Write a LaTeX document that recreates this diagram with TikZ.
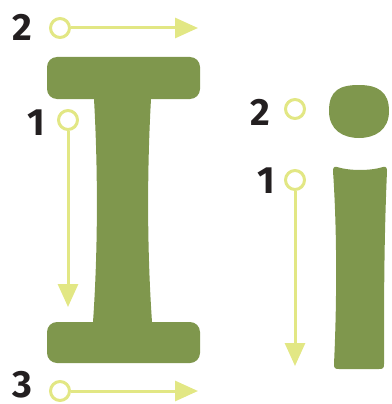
\documentclass[tikz,border=0pt]{standalone}
\usepackage{fontspec}
\setmainfont{Fira Sans}
\usepackage{tikz}
\usepackage{xcolor}
\usetikzlibrary{arrows.meta}
\definecolor{leaf}{RGB}{127,151,77}
\definecolor{lime}{RGB}{226,231,132}
\definecolor{ink}{RGB}{35,31,32}
\tikzset{>={Triangle[length=23pt,width=20pt]}}
\tikzset{
  letter/.style={fill=leaf},
  ring/.style={circle, draw=lime, line width=3pt, minimum size=19pt, inner sep=0pt},
  guide/.style={draw=lime, line width=3pt, ->},
  digit/.style={text=ink, font=\fontsize{38}{38}\selectfont\bfseries, inner sep=0pt}
}

\begin{document}
\begin{tikzpicture}[x=1pt, y=-1pt]
      \useasboundingbox (0, 0) rectangle (391, 404);
      % capital I
      \fill[letter] (94, 99) .. controls (98, 170) and (98, 250) .. (93, 322)
        -- (152, 322) .. controls (147, 250) and (147, 170) .. (151, 99) -- cycle;
      \fill[letter, rounded corners=10pt] (47, 57) rectangle (200, 99);
      \fill[letter, rounded corners=10pt] (47, 322) rectangle (200, 363);
      % small i
      \fill[letter] (329, 111) .. controls (329, 90) and (340, 85) .. (359, 85)
        .. controls (378, 85) and (389, 92) .. (389, 111)
        .. controls (389, 130) and (375, 138) .. (359, 138)
        .. controls (343, 138) and (329, 130) .. (329, 111) -- cycle;
      \fill[letter] (337, 167) .. controls (350, 171) and (370, 171) .. (383, 167)
        .. controls (386, 166) and (387, 168) .. (387, 171)
        .. controls (384, 240) and (384, 300) .. (384, 364)
        .. controls (384, 368) and (383, 369) .. (379, 369) -- (339, 369)
        .. controls (335, 369) and (334, 368) .. (334, 364)
        .. controls (337, 300) and (337, 230) .. (333, 171)
        .. controls (333, 168) and (334, 166) .. (337, 167) -- cycle;
      % strokes of I
      \node[digit] (top) at (22, 27) {2};
      \node[ring] (topring) at (60, 28) {};
      \coordinate (topend) at (198, 28);
      \draw[guide] (topring) -- (topend);
      \node[digit] (stem) at (36, 123) {1};
      \node[ring] (stemring) at (68, 120) {};
      \coordinate (stemend) at (68, 307);
      \draw[guide] (stemring) -- (stemend);
      \node[digit] (base) at (22, 385) {3};
      \node[ring] (basering) at (60, 391) {};
      \coordinate (baseend) at (198, 391);
      \draw[guide] (basering) -- (baseend);
      % strokes of i
      \node[digit] (dot) at (260, 112) {2};
      \node[ring] (dotring) at (295, 109) {};
      \node[digit] (line) at (266, 181) {1};
      \node[ring] (linering) at (295, 180) {};
      \coordinate (lineend) at (295, 366);
      \draw[guide] (linering) -- (lineend);
    \end{tikzpicture}
\end{document}
